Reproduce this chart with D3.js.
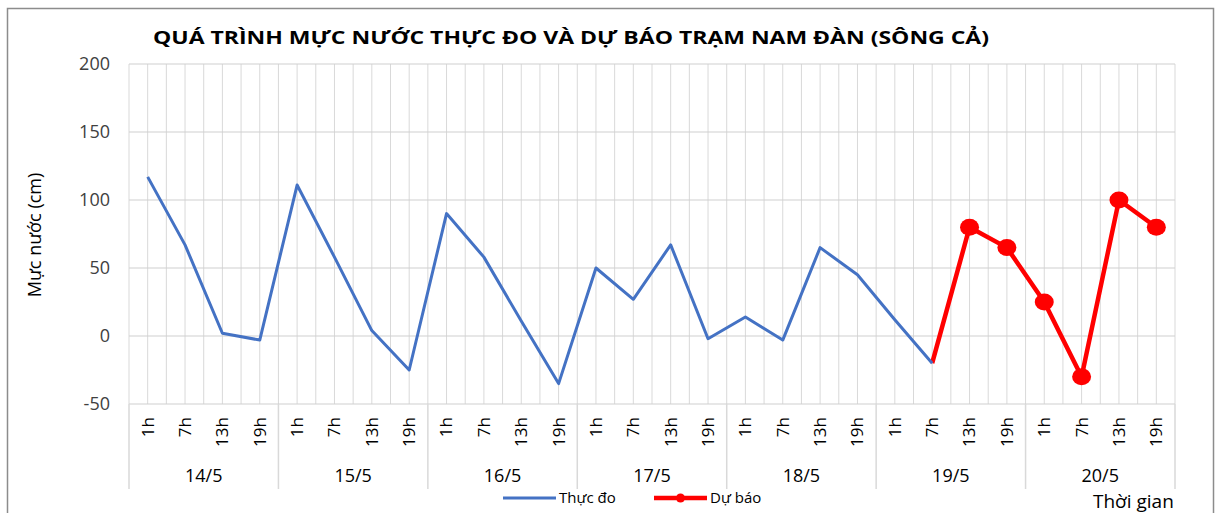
<!DOCTYPE html>
<html>
<head>
<meta charset="utf-8">
<script src="https://cdn.jsdelivr.net/npm/d3@7"></script>
<style>
  body { margin: 0; background: #fff; }
  text { font-family: "Open Sans", "Noto Sans", sans-serif; }
</style>
</head>
<body>
<script>
// categories: 7 days x 4 times
var days = ["14/5", "15/5", "16/5", "17/5", "18/5", "19/5", "20/5"];
var hours = ["1h", "7h", "13h", "19h"];

// water level, observed (Thực đo): 14/5 1h .. 19/5 7h
var observed = [117, 67, 2, -3,
                111, 58, 4, -25,
                90, 58, 11, -35,
                50, 27, 67, -2,
                14, -3, 65, 45,
                12, -20];
// forecast (Dự báo): 19/5 7h .. 20/5 19h
var forecast = [-20, 80, 65, 25, -30, 100, 80];
var forecastStart = 21;

var yTicks = [-50, 0, 50, 100, 150, 200];

var width = 1219, height = 513;
var plotLeft = 129, plotRight = 1175, plotTop = 64, plotBottom = 404;

var svg = d3.select("body").append("svg")
    .attr("width", width)
    .attr("height", height);

// outer chart border
svg.append("rect")
    .attr("x", 7.5).attr("y", 8.5)
    .attr("width", 1206).attr("height", 530)
    .attr("fill", "none")
    .attr("stroke", "#8c8c8c")
    .attr("stroke-width", 1.5);

var cats = [];
days.forEach(function(d) {
  hours.forEach(function(h) { cats.push({day: d, hour: h}); });
});
var idx = d3.range(cats.length);

var x = d3.scaleBand().domain(idx).range([plotLeft, plotRight]);
var bw = x.bandwidth();
function cx(i) { return x(i) + bw / 2; }

var y = d3.scaleLinear().domain([-50, 200]).range([plotBottom, plotTop]);

// vertical gridlines (major + minor)
var vlines = [];
idx.forEach(function(i) { vlines.push(x(i)); vlines.push(cx(i)); });
vlines.push(plotRight);
svg.append("g").selectAll("line").data(vlines).enter().append("line")
    .attr("x1", function(d) { return d; })
    .attr("x2", function(d) { return d; })
    .attr("y1", plotTop).attr("y2", plotBottom)
    .attr("stroke", "#d9d9d9").attr("stroke-width", 1);

// horizontal gridlines
svg.append("g").selectAll("line").data(yTicks).enter().append("line")
    .attr("x1", plotLeft).attr("x2", plotRight)
    .attr("y1", function(d) { return y(d); })
    .attr("y2", function(d) { return y(d); })
    .attr("stroke", "#d0d0d0").attr("stroke-width", 1.2);

// y tick labels
svg.append("g").selectAll("text").data(yTicks).enter().append("text")
    .attr("x", 110)
    .attr("y", function(d) { return y(d); })
    .attr("dy", "0.35em")
    .attr("text-anchor", "end")
    .style("font-size", "18px")
    .style("fill", "#404040")
    .text(function(d) { return d; });

// y axis title
svg.append("text")
    .attr("transform", "translate(35,235) rotate(-90)")
    .attr("text-anchor", "middle")
    .attr("dy", "0.35em")
    .style("font-size", "18px")
    .style("fill", "#000")
    .text("Mực nước (cm)");

// category axis: separators between days
var daySeps = d3.range(days.length + 1).map(function(k) {
  return k < days.length ? x(k * 4) : plotRight;
});
svg.append("g").selectAll("line").data(daySeps).enter().append("line")
    .attr("x1", function(d) { return d; })
    .attr("x2", function(d) { return d; })
    .attr("y1", plotBottom).attr("y2", 489)
    .attr("stroke", "#d9d9d9").attr("stroke-width", 1.5);

// hour labels (rotated)
svg.append("g").selectAll("text").data(idx).enter().append("text")
    .attr("transform", function(i) { return "translate(" + cx(i) + ",417) rotate(-90)"; })
    .attr("text-anchor", "end")
    .attr("dy", "0.35em")
    .style("font-size", "17px")
    .style("fill", "#000")
    .text(function(i) { return cats[i].hour; });

// day labels
svg.append("g").selectAll("text").data(days).enter().append("text")
    .attr("x", function(d, k) { return (x(k * 4) + x(k * 4 + 3) + bw) / 2; })
    .attr("y", 476)
    .attr("dy", "0.35em")
    .attr("text-anchor", "middle")
    .style("font-size", "18px")
    .style("fill", "#000")
    .text(function(d) { return d; });

// lines
var line = d3.line()
    .x(function(d) { return cx(d.i); })
    .y(function(d) { return y(d.v); });

var obsData = observed.map(function(v, i) { return {i: i, v: v}; });
var fcData = forecast.map(function(v, k) { return {i: forecastStart + k, v: v}; });

svg.append("path")
    .datum(fcData)
    .attr("d", line)
    .attr("fill", "none")
    .attr("stroke", "#ff0000")
    .attr("stroke-width", 4.5)
    .attr("stroke-linejoin", "round");

svg.append("path")
    .datum(obsData)
    .attr("d", line)
    .attr("fill", "none")
    .attr("stroke", "#4472c4")
    .attr("stroke-width", 3)
    .attr("stroke-linejoin", "round");

// forecast markers (first point shares the observed end, no marker)
svg.append("g").selectAll("ellipse").data(fcData.slice(1)).enter().append("ellipse")
    .attr("cx", function(d) { return cx(d.i); })
    .attr("cy", function(d) { return y(d.v); })
    .attr("rx", 9.5)
    .attr("ry", 8.5)
    .attr("fill", "#ff0000");

// title
svg.append("text")
    .attr("x", 571)
    .attr("y", 38)
    .attr("dy", "0.35em")
    .attr("text-anchor", "middle")
    .attr("textLength", 836)
    .attr("lengthAdjust", "spacingAndGlyphs")
    .style("font-size", "18px")
    .style("font-weight", "bold")
    .style("fill", "#000")
    .text("QUÁ TRÌNH MỰC NƯỚC THỰC ĐO VÀ DỰ BÁO TRẠM  NAM ĐÀN (SÔNG CẢ)");

// legend
var legY = 498;
svg.append("line")
    .attr("x1", 503).attr("x2", 556)
    .attr("y1", legY).attr("y2", legY)
    .attr("stroke", "#4472c4").attr("stroke-width", 3);
svg.append("text")
    .attr("x", 559).attr("y", legY).attr("dy", "0.35em")
    .style("font-size", "15px")
    .text("Thực đo");
svg.append("line")
    .attr("x1", 654).attr("x2", 707)
    .attr("y1", legY).attr("y2", legY)
    .attr("stroke", "#ff0000").attr("stroke-width", 4.5);
svg.append("circle")
    .attr("cx", 680.5).attr("cy", legY).attr("r", 4.5)
    .attr("fill", "#ff0000");
svg.append("text")
    .attr("x", 710).attr("y", legY).attr("dy", "0.35em")
    .style("font-size", "15px")
    .text("Dự báo");

// x axis title
svg.append("text")
    .attr("x", 1093).attr("y", 501).attr("dy", "0.35em")
    .style("font-size", "19px")
    .style("fill", "#000")
    .text("Thời gian");
</script>
</body>
</html>
